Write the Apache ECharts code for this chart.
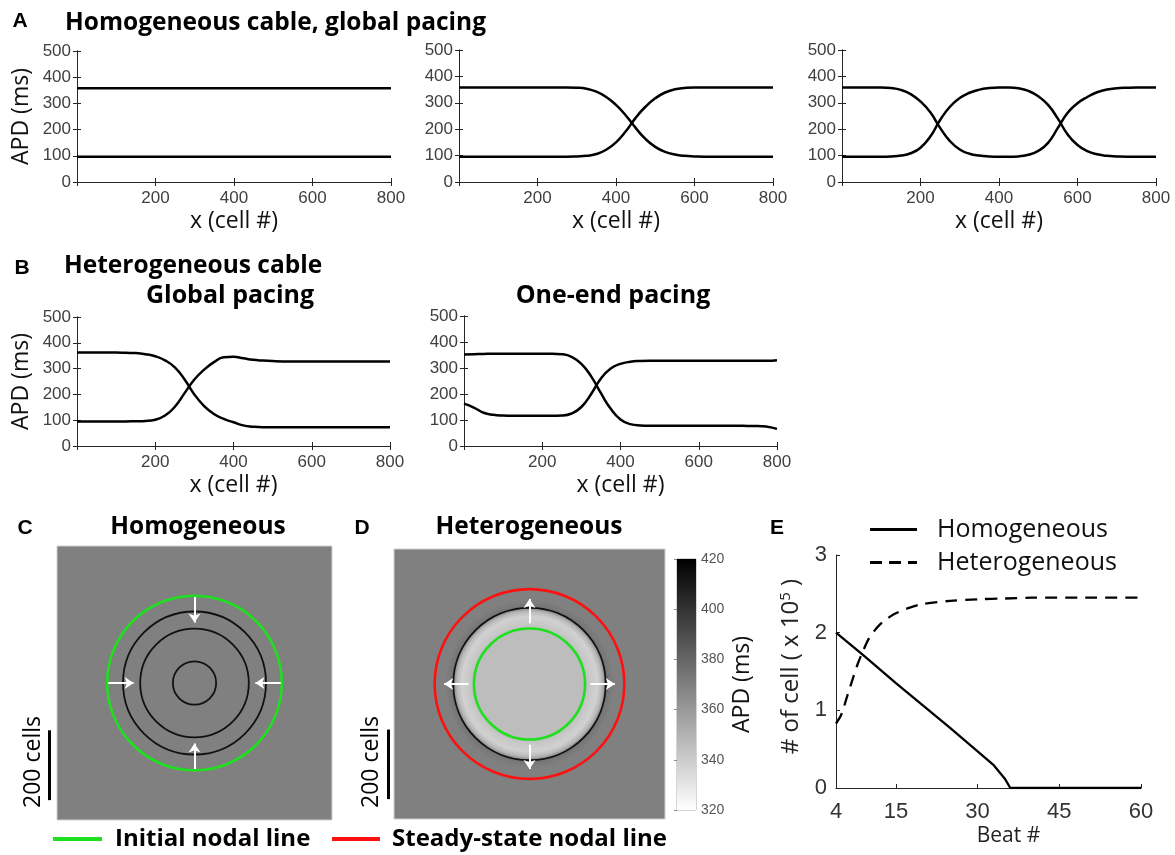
<!DOCTYPE html>
<html><head><meta charset="utf-8">
<script src="https://cdn.jsdelivr.net/npm/echarts@6/dist/echarts.min.js"></script>
<style>html,body{margin:0;padding:0;background:#fff}#c{width:1175px;height:855px}</style>
</head><body><div id="c"></div>
<script>
// ---------------- DATA ----------------
const xCells = [0,25,50,75,100,125,150,175,200,225,250,275,300,325,350,375,400,425,450,475,500,525,550,575,600,625,650,675,700,725,750,775,800];
// Panel A1 (flat)
const a1X = [0, 800];
const a1Long = [358, 358];
const a1Short = [96, 96];
// Panel A2
const a2Down = [358,358,358,358,358,358,358,358,358,358,358,358,357,353,342,322,292,252,205,163,133,114,104,99,97,96,96,96,96,96,96,96,96];
const a2Up   = [96,96,96,96,96,96,96,96,96,96,96,96,97,99,106,122,150,192,243,285,317,339,351,356,358,358,358,358,358,358,358,358,358];
// Panel A3
const a3A = [358,358,358,358,358,356,349,333,305,264,205,155,123,107,100,97,96,96,97,103,118,148,205,262,298,322,340,350,355,357,358,358,358];
const a3B = [96,96,96,96,96,97,100,109,130,172,235,285,318,338,350,356,358,358,355,345,325,292,240,180,140,117,105,99,97,96,96,96,96];
// Panel B1 (heterogeneous, global pacing)
const b1A = [362,362,362,362,362,361,360,356,348,332,305,258,200,155,124,105,92,80,75,73,73,73,73,73,73,73,73,73,73,73,73,73,73];
const b1B = [95,95,95,95,95,95,96,97,102,118,152,205,258,296,325,344,346,340,334,331,329,328,328,328,328,328,328,328,328,328,328,328,328];
// Panel B2 (heterogeneous, one-end pacing)
const b2A = [352,353,354,355,355,355,355,355,355,355,353,343,316,268,203,143,102,84,79,78,78,78,78,78,78,78,78,78,78,77,77,74,66];
const b2B = [163,148,128,120,117,116,116,116,116,116,117,125,150,200,260,298,316,324,327,328,328,328,328,328,328,328,328,328,328,328,328,328,330];
// Panel C (homogeneous tissue), cells; circles [cx, cy, radius]
const cGreen = [[400, 400, 254]];
const cBlack = [[400, 400, 208], [400, 400, 158], [400, 400, 63]];
const cArrows = [[400,651,400,577],[400,149,400,223],[149,400,223,400],[651,400,577,400]];
const cScaleBar = [[-23, 58], [-23, 262]];
// Panel D (heterogeneous tissue)
const dRed = [[400, 400, 280]];
const dBlack = [[400, 400, 225]];
const dGreen = [[400, 400, 164]];
const dArrows = [[400,580,400,652],[400,220,400,148],[220,400,148,400],[580,400,652,400]];
const dScaleBar = [[-18, 59], [-18, 265]];
const dDisc = [[400, 400, 250]];
const dStopR   = [0, 160, 180, 200, 214, 222, 226, 233, 250];
const dStopAPD = [346, 346, 341, 338, 348, 362, 377, 373, 370];
const cbRange = [[320, 420]];
// Panel E
const eBeatsHomo = [4, 9, 15, 20, 25, 30, 33, 35, 36, 45, 60];
const eHomo = [2.0, 1.71, 1.35, 1.06, 0.77, 0.47, 0.29, 0.12, 0, 0, 0];
const eBeatsHet = [4, 5, 6, 7, 8, 9, 10, 11, 12, 13, 14, 15, 17, 20, 25, 30, 35, 40, 50, 60];
const eHet = [0.83, 0.95, 1.17, 1.39, 1.60, 1.77, 1.92, 2.02, 2.10, 2.16, 2.21, 2.25, 2.31, 2.37, 2.41, 2.43, 2.44, 2.45, 2.45, 2.45];
const eTicks = [4, 15, 30, 45, 60];

// ---------------- HELPERS ----------------
const SANS = "'Open Sans', sans-serif";
const NUMF = "'Liberation Sans', Arial, sans-serif";
const AX = '#262626';
const pair = (xs, ys) => xs.map((x, i) => [x, ys[i]]);
const apdGray = v => { const g = Math.max(0, Math.min(255, Math.round(255 * (420 - v) / 100))); return 'rgb(' + g + ',' + g + ',' + g + ')'; };

const grids = [
  {left: 77, top: 51, width: 314, height: 131},   // 0 A1
  {left: 459, top: 50, width: 314, height: 132},  // 1 A2
  {left: 842, top: 50, width: 314, height: 132},  // 2 A3
  {left: 77, top: 317, width: 313, height: 129},  // 3 B1
  {left: 464, top: 316, width: 313, height: 130}, // 4 B2
  {left: 57, top: 546, width: 275, height: 274, show: true, backgroundColor: '#808080', borderColor: '#d0d0d0', borderWidth: 1}, // 5 C
  {left: 394, top: 549, width: 271, height: 270, show: true, backgroundColor: '#808080', borderColor: '#d0d0d0', borderWidth: 1}, // 6 D
  {left: 677, top: 559, width: 19, height: 251, show: true, borderColor: '#aaa', borderWidth: 1}, // 7 colorbar
  {left: 836, top: 555, width: 305, height: 233}  // 8 E
];
const xAxis = [], yAxis = [];
const cableX = {}, cableY = {};
function cableAxes(g, yName) {
  cableX[g] = xAxis.length;
  xAxis.push({gridIndex: g, type: 'value', min: 0, max: 800, interval: 200, position: 'bottom',
    axisLine: {lineStyle: {color: AX}}, axisTick: {inside: true, length: 4, lineStyle: {color: AX}},
    axisLabel: {color: '#404040', fontSize: 17, fontFamily: NUMF, margin: 8, formatter: v => v === 0 ? '' : String(v)},
    splitLine: {show: false}, name: 'x (cell #)', nameLocation: 'middle', nameGap: 28,
    nameTextStyle: {fontSize: 23, fontFamily: SANS, color: '#111'}});
  xAxis.push({gridIndex: g, type: 'value', min: 0, max: 800, interval: 200, position: 'top',
    axisLine: {lineStyle: {color: AX}}, axisTick: {inside: true, length: 4, lineStyle: {color: AX}},
    axisLabel: {show: false}, splitLine: {show: false}});
  cableY[g] = yAxis.length;
  yAxis.push({gridIndex: g, type: 'value', min: 0, max: 500, interval: 100, position: 'left',
    axisLine: {show: true, lineStyle: {color: AX}}, axisTick: {show: true, inside: true, length: 4, lineStyle: {color: AX}},
    axisLabel: {color: '#404040', fontSize: 17, fontFamily: NUMF, margin: 6},
    splitLine: {show: false}, name: yName, nameLocation: 'middle', nameGap: 44, nameRotate: 90,
    nameTextStyle: {fontSize: 23, fontFamily: SANS, color: '#111'}});
  yAxis.push({gridIndex: g, type: 'value', min: 0, max: 500, interval: 100, position: 'right',
    axisLine: {show: true, lineStyle: {color: AX}}, axisTick: {show: true, inside: true, length: 4, lineStyle: {color: AX}},
    axisLabel: {show: false}, splitLine: {show: false}});
}
cableAxes(0, 'APD (ms)');
cableAxes(1, '');
cableAxes(2, '');
cableAxes(3, 'APD (ms)');
cableAxes(4, '');

// C and D map axes (hidden)
const mapX = {}, mapY = {};
[5, 6].forEach(g => {
  mapX[g] = xAxis.length;
  xAxis.push({gridIndex: g, type: 'value', min: 0, max: 800, show: false});
  mapY[g] = yAxis.length;
  yAxis.push({gridIndex: g, type: 'value', min: 0, max: 800, show: false});
});
// colorbar axes
const cbX = xAxis.length;
xAxis.push({gridIndex: 7, type: 'value', min: 0, max: 1, show: false});
const cbY = yAxis.length;
yAxis.push({gridIndex: 7, type: 'value', min: 320, max: 420, interval: 20, position: 'right',
  axisLine: {show: false}, axisTick: {show: true, inside: true, length: 3, lineStyle: {color: '#888'}},
  axisLabel: {color: '#555', fontSize: 14, fontFamily: NUMF, margin: 5}, splitLine: {show: false},
  name: 'APD (ms)', nameLocation: 'middle', nameGap: 35, nameRotate: 90,
  nameTextStyle: {fontSize: 23, fontFamily: SANS, color: '#111'}});
// E axes
const eX = xAxis.length;
xAxis.push({gridIndex: 8, type: 'value', min: 4, max: 60,
  axisLine: {lineStyle: {color: AX}}, axisTick: {inside: true, length: 4, customValues: eTicks, lineStyle: {color: AX}},
  axisLabel: {customValues: eTicks, color: '#333', fontSize: 22, fontFamily: NUMF, margin: 13},
  splitLine: {show: false}, name: 'Beat #', nameLocation: 'middle', nameGap: 38,
  nameTextStyle: {fontSize: 21, fontFamily: SANS, color: '#222', padding: [0, 0, 0, 40]}});
const eY = yAxis.length;
yAxis.push({gridIndex: 8, type: 'value', min: 0, max: 3, interval: 1,
  axisLine: {show: true, lineStyle: {color: AX}}, axisTick: {show: true, inside: true, length: 4, lineStyle: {color: AX}},
  axisLabel: {color: '#333', fontSize: 22, fontFamily: NUMF, margin: 9}, splitLine: {show: false},
  name: '# of cell ( x 10{sup|5} )', nameLocation: 'middle', nameGap: 32, nameRotate: 90,
  nameTextStyle: {fontSize: 24, fontFamily: SANS, color: '#222', padding: [0, 0, 0, 10],
    rich: {sup: {fontSize: 15, fontFamily: SANS, color: '#222', verticalAlign: 'top', padding: [0, 0, 11, 0]}}}});

// ---------------- SERIES ----------------
const series = [];
function cableLine(g, xs, ys) {
  series.push({type: 'line', xAxisIndex: cableX[g], yAxisIndex: cableY[g], data: pair(xs, ys),
    showSymbol: false, symbol: 'none', smooth: 0.5,
    lineStyle: {color: '#000', width: 2.5}, silent: true});
}
cableLine(0, a1X, a1Long); cableLine(0, a1X, a1Short);
cableLine(1, xCells, a2Down); cableLine(1, xCells, a2Up);
cableLine(2, xCells, a3A); cableLine(2, xCells, a3B);
cableLine(3, xCells, b1A); cableLine(3, xCells, b1B);
cableLine(4, xCells, b2A); cableLine(4, xCells, b2B);

function circleItem(width) {
  return function (params, api) {
    const c = api.coord([api.value(0), api.value(1)]);
    const r = api.size([api.value(2), 0])[0];
    return {type: 'circle', shape: {cx: c[0], cy: c[1], r: r},
      style: {fill: 'none', stroke: api.visual('color'), lineWidth: width}};
  };
}
function circles(g, name, data, color, width) {
  series.push({type: 'custom', name: name, xAxisIndex: mapX[g], yAxisIndex: mapY[g], data: data,
    renderItem: circleItem(width), itemStyle: {color: color}, silent: true, clip: false});
}
function arrows(g, data) {
  series.push({type: 'lines', coordinateSystem: 'cartesian2d', xAxisIndex: mapX[g], yAxisIndex: mapY[g],
    data: data.map(d => ({coords: [[d[0], d[1]], [d[2], d[3]]]})),
    symbol: ['none', 'arrow'], symbolSize: 9, lineStyle: {color: '#fff', width: 2, opacity: 1}, silent: true});
}
function scaleBar(g, coords) {
  series.push({type: 'lines', coordinateSystem: 'cartesian2d', xAxisIndex: mapX[g], yAxisIndex: mapY[g],
    data: [{coords: coords}], clip: false, symbol: 'none', lineStyle: {color: '#000', width: 3, opacity: 1}, silent: true});
}
// D disc with radial APD profile
series.push({type: 'custom', xAxisIndex: mapX[6], yAxisIndex: mapY[6], data: dDisc, silent: true,
  renderItem: function (params, api) {
    const c = api.coord([api.value(0), api.value(1)]);
    const r = api.size([api.value(2), 0])[0];
    const rMax = dStopR[dStopR.length - 1];
    const stops = dStopR.map((rr, i) => ({offset: rr / rMax, color: apdGray(dStopAPD[i])}));
    return {type: 'circle', shape: {cx: c[0], cy: c[1], r: r},
      style: {fill: new echarts.graphic.RadialGradient(0.5, 0.5, 0.5, stops)}};
  }});
// C
circles(5, 'black-c', cBlack, '#111', 1.8);
circles(5, 'Initial nodal line', cGreen, '#1ee01e', 2.6);
arrows(5, cArrows);
scaleBar(5, cScaleBar);
// D
circles(6, 'black-d', dBlack, '#111', 1.8);
circles(6, 'Initial nodal line', dGreen, '#1ee01e', 2.6);
circles(6, 'Steady-state nodal line', dRed, '#ff1010', 2.6);
arrows(6, dArrows);
scaleBar(6, dScaleBar);
// colorbar
series.push({type: 'custom', xAxisIndex: cbX, yAxisIndex: cbY, data: cbRange, silent: true,
  encode: {x: -1, y: [0, 1]},
  renderItem: function (params, api) {
    const p1 = api.coord([0, api.value(1)]);
    const p2 = api.coord([1, api.value(0)]);
    return {type: 'rect', shape: {x: p1[0], y: p1[1], width: p2[0] - p1[0], height: p2[1] - p1[1]},
      style: {fill: new echarts.graphic.LinearGradient(0, 0, 0, 1,
        [{offset: 0, color: apdGray(cbRange[0][1])}, {offset: 1, color: apdGray(cbRange[0][0])}])}};
  }});
// E
series.push({type: 'line', name: 'Homogeneous', xAxisIndex: eX, yAxisIndex: eY, data: pair(eBeatsHomo, eHomo),
  showSymbol: false, symbol: 'none', lineStyle: {color: '#000', width: 2.3}, itemStyle: {color: '#000'}, silent: true});
series.push({type: 'line', name: 'Heterogeneous', xAxisIndex: eX, yAxisIndex: eY, data: pair(eBeatsHet, eHet),
  showSymbol: false, symbol: 'none', smooth: 0.3,
  lineStyle: {color: '#000', width: 2.3, type: [12, 8]}, itemStyle: {color: '#000'}, silent: true});

// ---------------- TEXT ----------------
function txt(text, x, y, font, align, rot) {
  return {type: 'text', x: x, y: y, rotation: rot || 0, silent: true,
    style: {text: text, font: font, fill: '#000', align: align || 'left', verticalAlign: 'middle'}};
}
const B21 = 'bold 21px ' + NUMF;
const T24 = 'bold 24.5px ' + SANS;
const graphic = [
  txt('A', 20, 21, B21, 'center'),
  txt('Homogeneous cable, global pacing', 65, 23, T24),
  txt('B', 22, 268, B21, 'center'),
  txt('Heterogeneous cable', 64, 266, T24),
  txt('Global pacing', 230, 296, 'bold 25px ' + SANS, 'center'),
  txt('One-end pacing', 613, 296, 'bold 25px ' + SANS, 'center'),
  txt('C', 25, 528, B21, 'center'),
  txt('Homogeneous', 198, 527, T24, 'center'),
  txt('D', 362, 528, B21, 'center'),
  txt('Heterogeneous', 529, 527, T24, 'center'),
  txt('E', 777, 528, B21, 'center'),
  txt('200 cells', 33, 762, '23px ' + SANS, 'center', Math.PI / 2),
  txt('200 cells', 371, 762, '23px ' + SANS, 'center', Math.PI / 2)
];

const legendBase = {orient: 'horizontal', padding: 0, selectedMode: false, symbolKeepAspect: false};
const option = {
  animation: false,
  grid: grids,
  xAxis: xAxis,
  yAxis: yAxis,
  series: series,
  graphic: graphic,
  legend: [
    Object.assign({}, legendBase, {left: 870, top: 517, itemWidth: 47, itemHeight: 3,
      data: [{name: 'Homogeneous', icon: 'rect'}],
      textStyle: {fontSize: 25, fontFamily: SANS, color: '#111', padding: [0, 0, 0, 15]}}),
    Object.assign({}, legendBase, {left: 870, top: 550, itemWidth: 47, itemHeight: 3,
      data: [{name: 'Heterogeneous', icon: 'path://M0,0h12v3h-12z M19,0h12v3h-12z M38,0h9v3h-9z'}],
      textStyle: {fontSize: 25, fontFamily: SANS, color: '#111', padding: [0, 0, 0, 15]}}),
    Object.assign({}, legendBase, {left: 53, top: 827, itemWidth: 49, itemHeight: 4,
      data: [{name: 'Initial nodal line', icon: 'rect'}],
      textStyle: {fontSize: 24, fontWeight: 'bold', fontFamily: SANS, color: '#000', padding: [0, 0, 0, 8]}}),
    Object.assign({}, legendBase, {left: 332, top: 827, itemWidth: 48, itemHeight: 4,
      data: [{name: 'Steady-state nodal line', icon: 'rect'}],
      textStyle: {fontSize: 24, fontWeight: 'bold', fontFamily: SANS, color: '#000', padding: [0, 0, 0, 7]}})
  ]
};
const chart = echarts.init(document.getElementById('c'), null, {renderer: 'canvas'});
chart.setOption(option);
</script>
</body></html>
